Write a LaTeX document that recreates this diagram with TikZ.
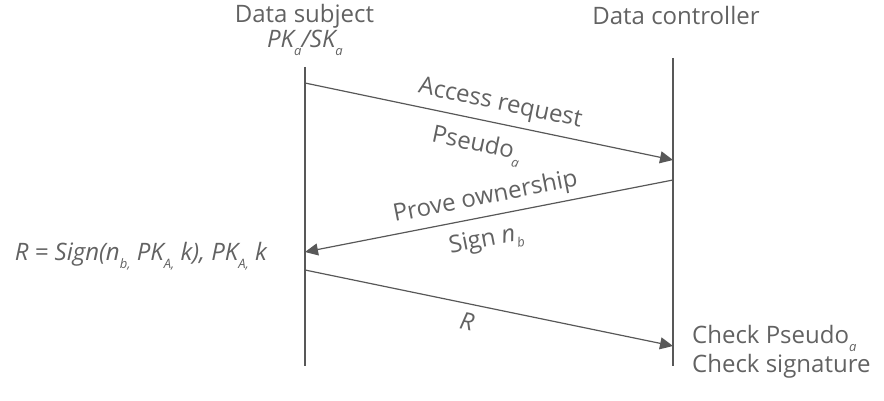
\documentclass[tikz,border=0pt]{standalone}
\usepackage{fontspec}
\setmainfont{Open Sans}
\usetikzlibrary{arrows.meta}
\definecolor{ink}{HTML}{585858}
\definecolor{txt}{HTML}{626262}
\tikzset{
  lifeline/.style={draw=ink, line width=1.2pt},
  msg/.style={draw=ink, line width=1.2pt, -{Triangle[length=13pt,width=12pt]}},
  lbl/.style={text=txt, font=\fontsize{24}{29}\selectfont, inner sep=2pt},
}
\newcommand{\sbs}[1]{\raisebox{-0.6ex}{\fontsize{13}{13}\selectfont\itshape #1}}
\begin{document}
\begin{tikzpicture}[x=1pt,y=-1pt]
\useasboundingbox (0,0) rectangle (884,401);
% headers
\node[lbl] (ds) at (304.5,16) {Data subject};
\node[lbl] (pk) at (305,43) {\itshape PK\sbs{a}/SK\sbs{a}};
\node[lbl] (dc) at (676,16) {Data controller};
% lifelines
\coordinate (lt) at (305,67);
\coordinate (lb) at (305,366);
\coordinate (rt) at (673,58);
\coordinate (rb) at (673,366);
\draw[lifeline] (lt) -- (lb);
\draw[lifeline] (rt) -- (rb);
% message endpoints
\coordinate (m1s) at (305,83);
\coordinate (m1e) at (673,160);
\coordinate (m2s) at (673,180);
\coordinate (m2e) at (305,252);
\coordinate (m3s) at (305,270);
\coordinate (m3e) at (673,346);
\draw[msg] (m1s) -- node[lbl, sloped, above=5pt, pos=0.52] {Access request}
                    node[lbl, sloped, below=11pt, pos=0.48] {Pseudo\sbs{a}} (m1e);
\draw[msg] (m2s) -- node[lbl, sloped, above=4pt, pos=0.5] {Prove ownership}
                    node[lbl, sloped, below=9pt, pos=0.52] {Sign \itshape n\sbs{b}} (m2e);
\draw[msg] (m3s) -- node[lbl, sloped, below=6pt, pos=0.45] {\itshape R} (m3e);
% side notes
\node[lbl, anchor=east] (rdef) at (269,256) {\itshape R = Sign(n\sbs{b,} PK\sbs{A,} k), PK\sbs{A,} k};
\node[lbl, anchor=west, align=left] (chk) at (690,352) {Check Pseudo\sbs{a}\\Check signature};
\end{tikzpicture}
\end{document}
